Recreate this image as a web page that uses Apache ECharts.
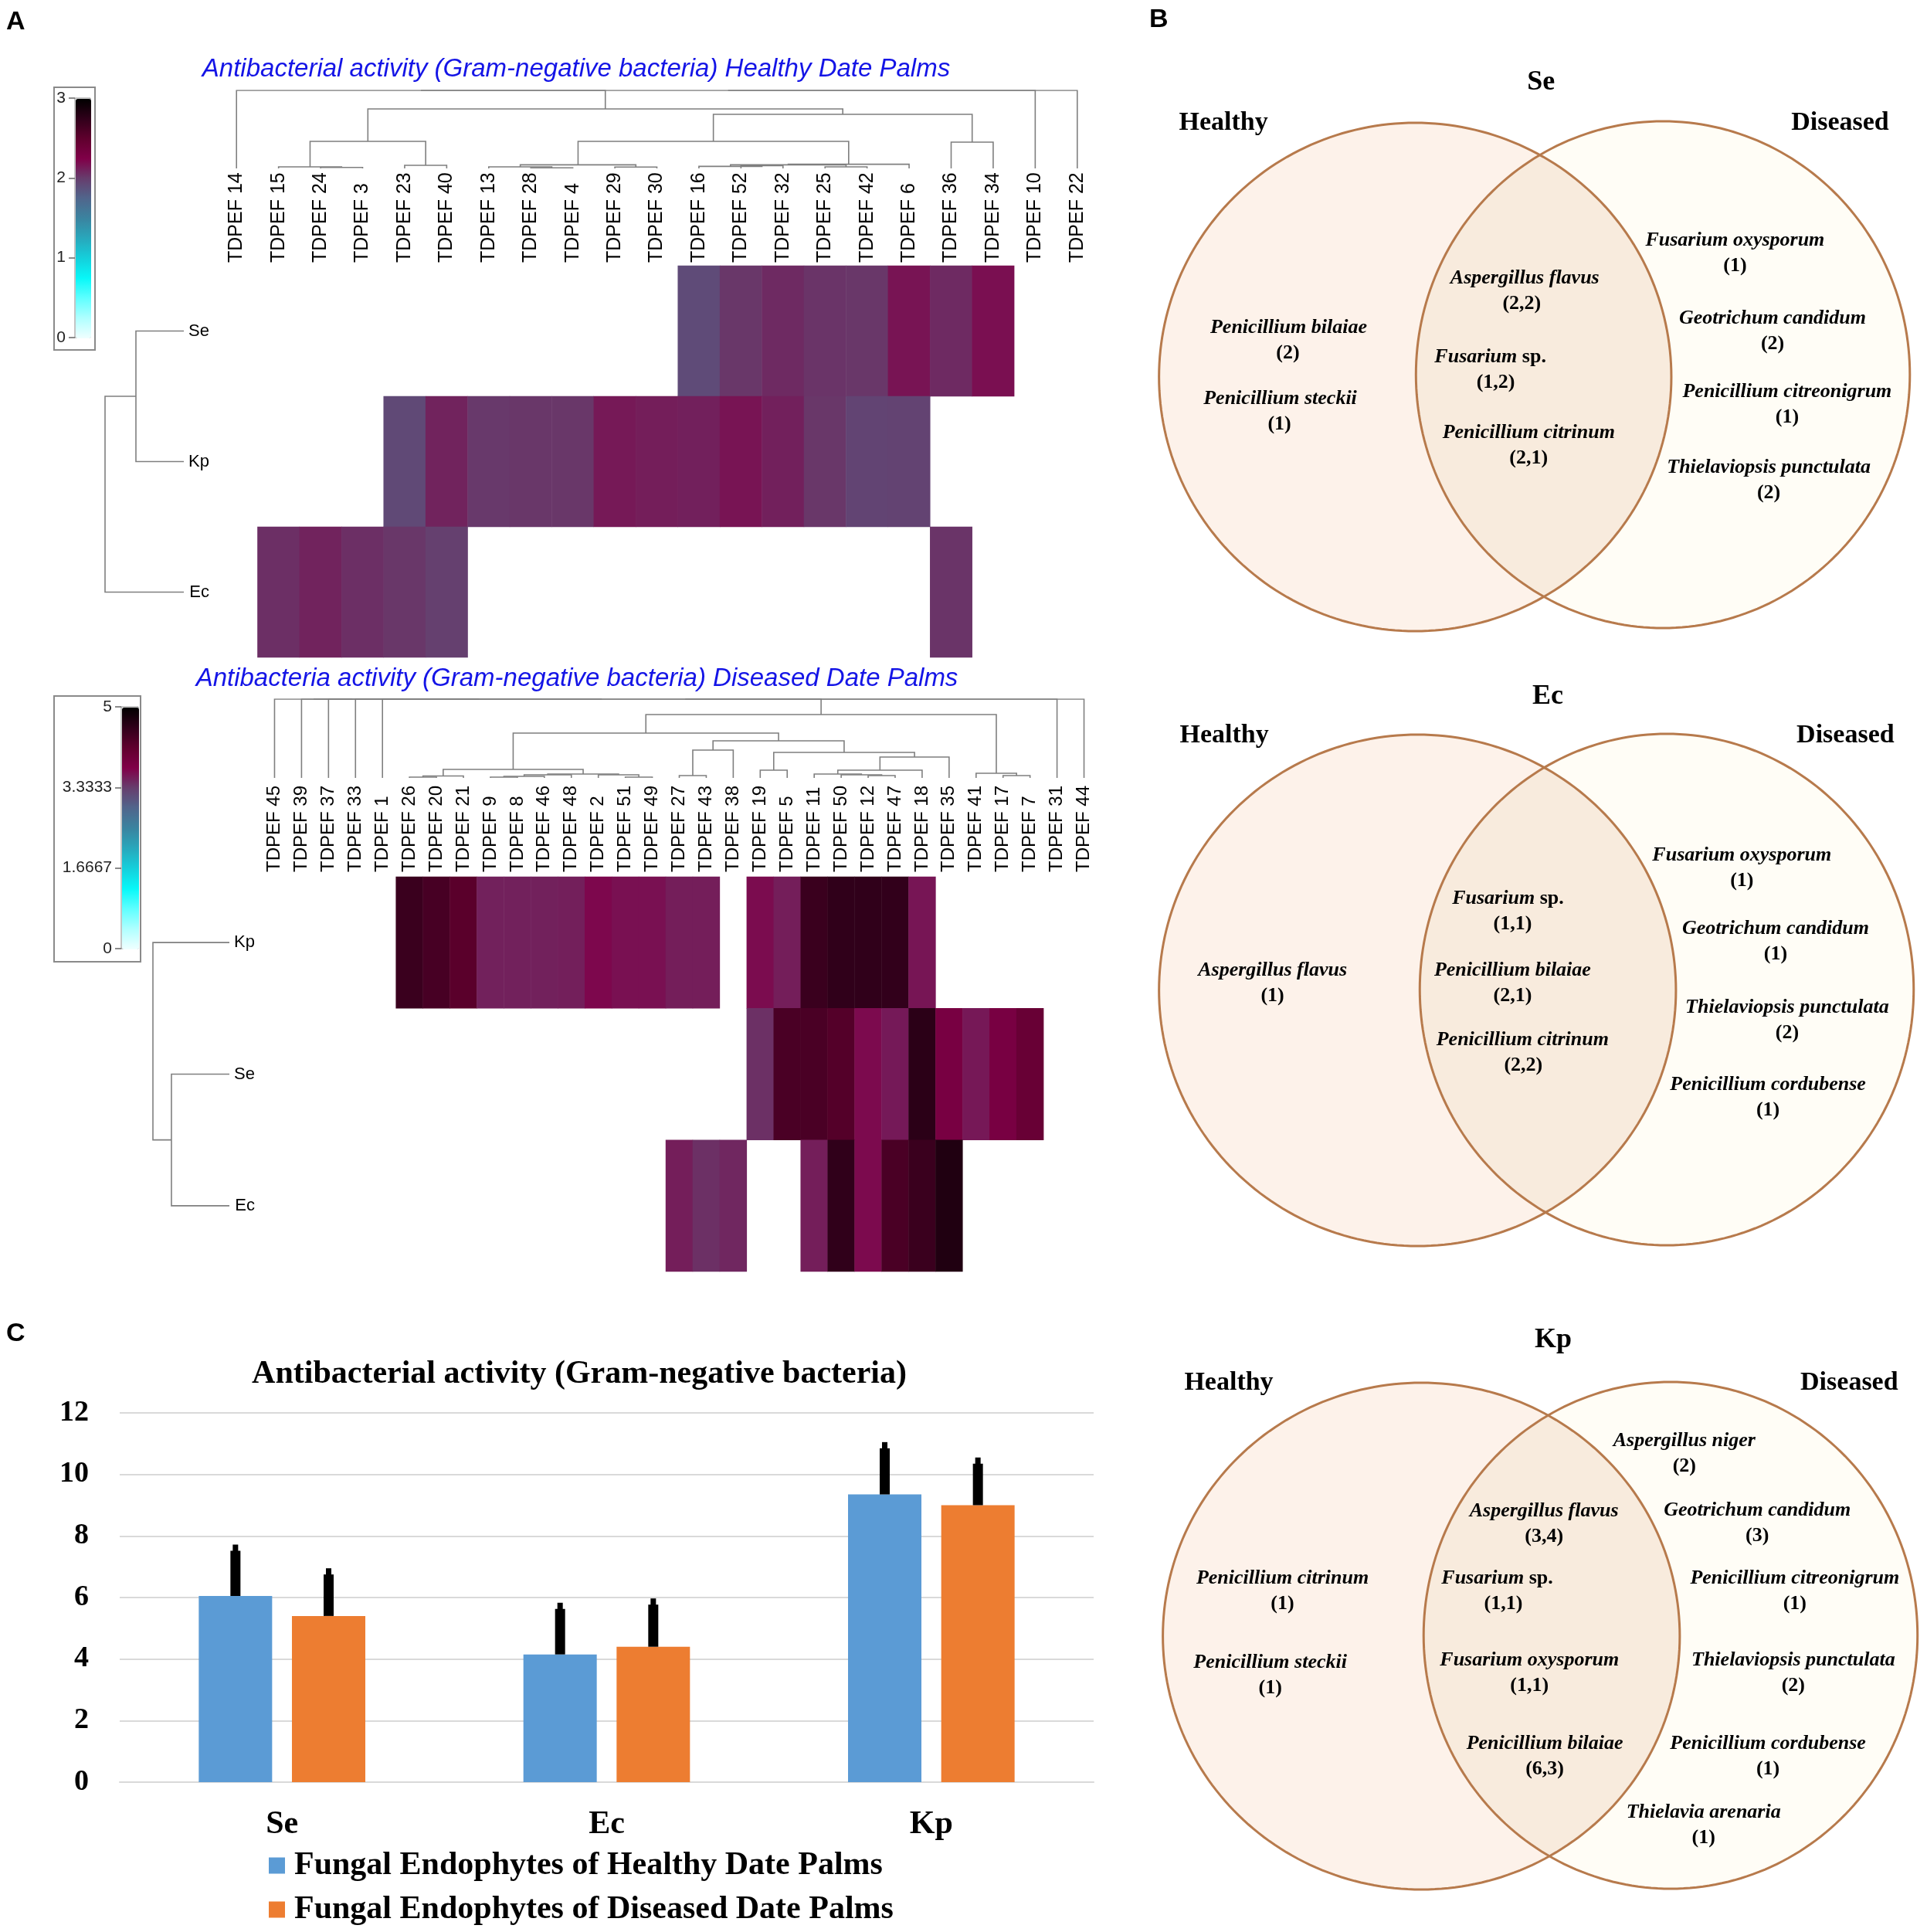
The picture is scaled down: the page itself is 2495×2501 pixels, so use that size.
<!DOCTYPE html>
<html><head><meta charset="utf-8">
<script src="https://cdn.jsdelivr.net/npm/echarts@6/dist/echarts.min.js"></script>
<style>html,body{margin:0;padding:0;background:#fff}#c{width:2495px;height:2501px}</style>
</head><body><div id="c"></div><script>
// ---------------- DATA ----------------
// Heatmap 1 (healthy)
const hm1Columns = ['TDPEF 14','TDPEF 15','TDPEF 24','TDPEF 3','TDPEF 23','TDPEF 40','TDPEF 13','TDPEF 28','TDPEF 4','TDPEF 29','TDPEF 30','TDPEF 16','TDPEF 52','TDPEF 32','TDPEF 25','TDPEF 42','TDPEF 6','TDPEF 36','TDPEF 34','TDPEF 10','TDPEF 22'];
const hm1Rows = ['Se','Kp','Ec'];
const hm1SeCols = ['TDPEF 16','TDPEF 52','TDPEF 32','TDPEF 25','TDPEF 42','TDPEF 6','TDPEF 36','TDPEF 34'];
const hm1SeVals = [1.92,2.03,2.08,2.04,2.03,2.17,2.08,2.19];
const hm1KpCols = ['TDPEF 23','TDPEF 40','TDPEF 13','TDPEF 28','TDPEF 4','TDPEF 29','TDPEF 30','TDPEF 16','TDPEF 52','TDPEF 32','TDPEF 25','TDPEF 42','TDPEF 6'];
const hm1KpVals = [1.93,2.11,2.02,2.03,2.03,2.15,2.13,2.12,2.17,2.12,2.03,1.96,1.97];
const hm1EcCols = ['TDPEF 15','TDPEF 24','TDPEF 3','TDPEF 23','TDPEF 40','TDPEF 36'];
const hm1EcVals = [2.06,2.11,2.06,2.03,1.99,2.04];
const hm1ScaleTicks = [0,1,2,3];
// column dendrogram 1: [nodeA, nodeB, height]
const hm1ColLinks = [[2,3,1.3],[1,21,2.0],[4,5,4.0],[22,23,34.7],[7,8,0.7],[6,25,2.0],[9,10,1.7],[26,27,4.6],[12,13,3.6],[11,29,2.6],[14,15,2.0],[30,31,4.6],[32,16,5.3],[28,33,34.7],[17,18,33.7],[34,35,69.3],[24,36,76.2],[0,37,100],[38,19,100],[39,20,100]];
const hm1RowLinks = [[0,1,60.8],[3,2,100]];

// Heatmap 2 (diseased)
const hm2Columns = ['TDPEF 45','TDPEF 39','TDPEF 37','TDPEF 33','TDPEF 1','TDPEF 26','TDPEF 20','TDPEF 21','TDPEF 9','TDPEF 8','TDPEF 46','TDPEF 48','TDPEF 2','TDPEF 51','TDPEF 49','TDPEF 27','TDPEF 43','TDPEF 38','TDPEF 19','TDPEF 5','TDPEF 11','TDPEF 50','TDPEF 12','TDPEF 47','TDPEF 18','TDPEF 35','TDPEF 41','TDPEF 17','TDPEF 7','TDPEF 31','TDPEF 44'];
const hm2Rows = ['Kp','Se','Ec'];
const hm2KpCols = ['TDPEF 26','TDPEF 20','TDPEF 21','TDPEF 9','TDPEF 8','TDPEF 46','TDPEF 48','TDPEF 2','TDPEF 51','TDPEF 49','TDPEF 27','TDPEF 43','TDPEF 19','TDPEF 5','TDPEF 11','TDPEF 50','TDPEF 12','TDPEF 47','TDPEF 18'];
const hm2KpVals = [4.5,4.38,4.22,3.53,3.53,3.53,3.54,3.7,3.64,3.64,3.55,3.55,3.67,3.55,4.5,4.58,4.58,4.57,3.61];
const hm2SeCols = ['TDPEF 19','TDPEF 5','TDPEF 11','TDPEF 50','TDPEF 12','TDPEF 47','TDPEF 18','TDPEF 35','TDPEF 41','TDPEF 17','TDPEF 7'];
const hm2SeVals = [3.43,4.36,4.36,4.27,3.68,3.58,4.63,3.85,3.59,3.85,4.06];
const hm2EcCols = ['TDPEF 27','TDPEF 43','TDPEF 38','TDPEF 11','TDPEF 50','TDPEF 12','TDPEF 47','TDPEF 18','TDPEF 35'];
const hm2EcVals = [3.55,3.43,3.49,3.55,4.58,3.68,4.36,4.5,4.72];
const hm2ScaleTicks = [0,5/3,10/3,5];
const hm2ColLinks = [[5,6,1.0],[31,7,2.5],[8,9,1.0],[33,10,2.0],[34,11,3.9],[13,14,1.0],[12,36,3.9],[35,37,4.9],[32,38,10.8],[15,16,2.9],[40,17,35.3],[18,19,9.8],[22,23,2.9],[21,43,3.9],[20,44,4.9],[45,24,9.8],[46,25,26.5],[42,47,32.4],[41,48,47.1],[39,49,56.9],[27,28,2.9],[26,51,5.9],[50,52,80.4],[4,53,100],[3,54,100],[2,55,100],[1,56,100],[0,57,100],[58,29,100],[59,30,100]];
const hm2RowLinks = [[1,2,75.8],[0,3,100]];

// Bar chart
const barCategories = ['Se','Ec','Kp'];
const healthyMeans = [6.05,4.15,9.35];
const healthyErr = [1.67,1.68,1.70];
const diseasedMeans = [5.4,4.4,9.0];
const diseasedErr = [1.55,1.57,1.55];
const barTicks = [0,2,4,6,8,10,12];
const seriesNames = ['Fungal Endophytes of Healthy Date Palms','Fungal Endophytes of Diseased Date Palms'];

// Venn diagrams: [species, count]
const vennSeHealthy = [['Penicillium bilaiae','(2)'],['Penicillium steckii','(1)']];
const vennSeBoth = [['Aspergillus flavus','(2,2)'],['Fusarium sp.','(1,2)'],['Penicillium citrinum','(2,1)']];
const vennSeDiseased = [['Fusarium oxysporum','(1)'],['Geotrichum candidum','(2)'],['Penicillium citreonigrum','(1)'],['Thielaviopsis punctulata','(2)']];
const vennEcHealthy = [['Aspergillus flavus','(1)']];
const vennEcBoth = [['Fusarium sp.','(1,1)'],['Penicillium bilaiae','(2,1)'],['Penicillium citrinum','(2,2)']];
const vennEcDiseased = [['Fusarium oxysporum','(1)'],['Geotrichum candidum','(1)'],['Thielaviopsis punctulata','(2)'],['Penicillium cordubense','(1)']];
const vennKpHealthy = [['Penicillium citrinum','(1)'],['Penicillium steckii','(1)']];
const vennKpBoth = [['Aspergillus flavus','(3,4)'],['Fusarium sp.','(1,1)'],['Fusarium oxysporum','(1,1)'],['Penicillium bilaiae','(6,3)']];
const vennKpDiseased = [['Aspergillus niger','(2)'],['Geotrichum candidum','(3)'],['Penicillium citreonigrum','(1)'],['Thielaviopsis punctulata','(2)'],['Penicillium cordubense','(1)'],['Thielavia arenaria','(1)']];

// ---------------- LAYOUT (positions / styles) ----------------
const vennLayout = [
  {title:'Se', t:[1999,107], h:[1585,159], d:[2389,159],
   eH:[1835,488,334,329], eD:[2158,485,322,328],
   pH:[[1670,424,1669],[1659,516,1658]],
   pB:[[1978,360,1974],[1933,462,1940],[1983,560,1983]],
   pD:[[2252,311,2252],[2301,412,2301],[2320,507,2320],[2296,605,2296]]},
  {title:'Ec', t:[2008,902], h:[1586,952], d:[2396,952],
   eH:[1838,1282,337,331], eD:[2163,1281,322,331],
   pH:[[1649,1256,1649]],
   pB:[[1956,1163,1962],[1962,1256,1962],[1975,1346,1976]],
   pD:[[2261,1107,2261],[2305,1202,2305],[2320,1304,2320],[2295,1404,2295]]},
  {title:'Kp', t:[2015,1735], h:[1592,1790], d:[2401,1790],
   eH:[1843,2118,337,328], eD:[2168,2117,322,328],
   pH:[[1662,2043,1662],[1646,2152,1646]],
   pB:[[2003,1956,2003],[1942,2043,1950],[1984,2149,1984],[2004,2257,2004]],
   pD:[[2186,1865,2186],[2281,1955,2281],[2330,2043,2330],[2328,2149,2328],[2295,2257,2295],[2211,2346,2211]]}
];
const vennData = [[vennSeHealthy,vennSeBoth,vennSeDiseased],[vennEcHealthy,vennEcBoth,vennEcDiseased],[vennKpHealthy,vennKpBoth,vennKpDiseased]];
const VX0 = 1450, VXS = 0.993;           // horizontal calibration of panel B
const vx = x => VX0 + (x - VX0) * VXS;

const cmap = ['#f0ffff','#b0ffff','#60ffff','#08f8f8','#14d0dc','#28a8bc','#3a84a0','#50668c','#663e6e','#800048','#60002e','#30001a','#000000'];
const SANS = '"Liberation Sans", Arial, sans-serif';
const SERIF = '"Liberation Serif", "Times New Roman", serif';
const DCOL = '#7f7f7f';

// ---------------- HELPERS ----------------
function heatData(cols, rows, rowCols, rowVals) {
  const out = [];
  rows.forEach((r, ri) => {
    rowCols[ri].forEach((c, k) => out.push([cols.indexOf(c), ri, rowVals[ri][k]]));
  });
  return out;
}
function dendroSegments(n, links, swap) {
  const pos = [], ht = [];
  for (let i = 0; i < n; i++) { pos[i] = i; ht[i] = 0; }
  const segs = [];
  links.forEach((l, k) => {
    const a = l[0], b = l[1], h = l[2];
    let pts = [[pos[a], ht[a]], [pos[a], h], [pos[b], h], [pos[b], ht[b]]];
    if (swap) pts = pts.map(p => [p[1], p[0]]);
    segs.push({coords: pts});
    pos[n + k] = (pos[a] + pos[b]) / 2; ht[n + k] = h;
  });
  return segs;
}
function ellipsePts(e, a0, a1, n) {
  const pts = [];
  for (let i = 0; i <= n; i++) {
    const t = (a0 + (a1 - a0) * i / n) * Math.PI / 180;
    pts.push([e[0] + e[2] * Math.cos(t), e[1] - e[3] * Math.sin(t)]);
  }
  return pts;
}
function inside(p, e) { return Math.pow((p[0]-e[0])/e[2],2) + Math.pow((p[1]-e[1])/e[3],2) <= 1.0001; }

const hm1Data = heatData(hm1Columns, hm1Rows, [hm1SeCols, hm1KpCols, hm1EcCols], [hm1SeVals, hm1KpVals, hm1EcVals]);
const hm2Data = heatData(hm2Columns, hm2Rows, [hm2KpCols, hm2SeCols, hm2EcCols], [hm2KpVals, hm2SeVals, hm2EcVals]);

// ---------------- GRAPHICS ----------------
const graphics = [];
function txt(x, y, text, font, fill, align) {
  graphics.push({type:'text', silent:true, z:10, style:{x:x, y:y, text:text, font:font, fill:fill||'#000', textAlign:align||'center', textVerticalAlign:'middle'}});
}
txt(8, 29, 'A', 'bold 34px ' + SANS, '#000', 'left');
txt(1488, 26, 'B', 'bold 34px ' + SANS, '#000', 'left');
txt(8, 1727, 'C', 'bold 34px ' + SANS, '#000', 'left');
txt(746, 90, 'Antibacterial activity (Gram-negative bacteria) Healthy Date Palms', 'italic 33px ' + SANS, '#1414e6');
txt(747, 879, 'Antibacteria activity (Gram-negative bacteria) Diseased Date Palms', 'italic 33px ' + SANS, '#1414e6');
txt(750, 1779, 'Antibacterial activity (Gram-negative bacteria)', 'bold 42px ' + SERIF, '#000');

const VSTROKE = '#b77a4c';
vennLayout.forEach((L, vi) => {
  const eH = [vx(L.eH[0]), L.eH[1], L.eH[2] * VXS, L.eH[3]];
  const eD = [vx(L.eD[0]), L.eD[1], L.eD[2] * VXS, L.eD[3]];
  graphics.push({type:'polygon', silent:true, z:1, shape:{points: ellipsePts(eH,0,360,240)}, style:{fill:'#fdf2ea', stroke:null}});
  graphics.push({type:'polygon', silent:true, z:2, shape:{points: ellipsePts(eD,0,360,240)}, style:{fill:'#fffdf6', stroke:null}});
  const lens = ellipsePts(eD,90,270,400).filter(p => inside(p, eH)).concat(ellipsePts(eH,-90,90,400).filter(p => inside(p, eD)));
  graphics.push({type:'polygon', silent:true, z:3, shape:{points: lens}, style:{fill:'#f8ebdd', stroke:null}});
  graphics.push({type:'polygon', silent:true, z:4, shape:{points: ellipsePts(eH,0,360,240)}, style:{fill:null, stroke:VSTROKE, lineWidth:3}});
  graphics.push({type:'polygon', silent:true, z:4, shape:{points: ellipsePts(eD,0,360,240)}, style:{fill:null, stroke:VSTROKE, lineWidth:3}});
  txt(vx(L.t[0]), L.t[1], L.title, 'bold 36px ' + SERIF);
  txt(vx(L.h[0]), L.h[1], 'Healthy', 'bold 34px ' + SERIF);
  txt(vx(L.d[0]), L.d[1], 'Diseased', 'bold 34px ' + SERIF);
  const groups = vennData[vi], poss = [L.pH, L.pB, L.pD];
  groups.forEach((items, gi) => {
    items.forEach((it, k) => {
      const p = poss[gi][k];
      const name = it[0];
      if (/ sp\.$/.test(name)) {
        graphics.push({type:'text', silent:true, z:10, style:{x:vx(p[0]), y:p[1], text:'{i|' + name.replace(/ sp\.$/,'') + '}{n|\u00a0sp.}', textAlign:'center', textVerticalAlign:'middle',
          rich:{i:{fontFamily:SERIF, fontStyle:'italic', fontWeight:'bold', fontSize:26, fill:'#000', color:'#000'}, n:{fontFamily:SERIF, fontWeight:'bold', fontSize:26, fill:'#000', color:'#000'}}}});
      } else {
        txt(vx(p[0]), p[1], name, 'italic bold 26px ' + SERIF);
      }
      txt(vx(p[2]), p[1] + 33, it[1], 'bold 26px ' + SERIF);
    });
  });
});

// ---------------- OPTION ----------------
const hidden = {show:false};
function valAxis(grid, min, max, extra) { return Object.assign({type:'value', gridIndex:grid, min:min, max:max, show:false}, extra||{}); }
const heatXAxis = (grid, cols, margin, fs) => ({type:'category', gridIndex:grid, data:cols, position:'top',
  axisLine:hidden, axisTick:hidden, splitLine:hidden,
  axisLabel:{rotate:-90, interval:0, fontSize:fs, fontFamily:SANS, color:'#000', margin:margin}});
const heatYAxis = (grid, rows) => ({type:'category', gridIndex:grid, data:rows, inverse:true,
  axisLine:hidden, axisTick:hidden, splitLine:hidden,
  axisLabel:{fontSize:22, fontFamily:SANS, color:'#000', margin:8}});
const cbYAxis = (grid, max, ticks) => ({type:'value', gridIndex:grid, min:0, max:max, position:'left',
  axisLine:hidden, splitLine:hidden,
  axisTick:{show:true, length:8, lineStyle:{color:'#666', width:1.5}, customValues:ticks},
  axisLabel:{margin:12, fontSize:21, fontFamily:SANS, color:'#222', customValues:ticks,
    formatter: v => String(Math.round(v*10000)/10000)}});

const errSeries = (name, means, errs, sign) => ({
  type:'custom', name:name, xAxisIndex:8, yAxisIndex:8, silent:true, z:5,
  data: means.map((m, i) => [i, m, errs[i]]),
  renderItem: function (params, api) {
    const c = api.value(0), m = api.value(1), e = api.value(2);
    const p0 = api.coord([c, m]), p1 = api.coord([c, m + e]);
    const x = p0[0] + sign * (95 + 0.27 * 95) / 2;
    return {type:'group', children:[
      {type:'rect', shape:{x:x - 6.5, y:p1[1] + 8, width:13, height:p0[1] - p1[1] - 8}, style:{fill:'#000'}},
      {type:'rect', shape:{x:x - 3.5, y:p1[1], width:7, height:9}, style:{fill:'#000'}}
    ]};
  }
});
const legendBase = {orient:'horizontal', left:348, itemWidth:21, itemHeight:21, icon:'rect', padding:0,
  selectedMode:false, textStyle:{fontSize:42, fontWeight:'bold', fontFamily:SERIF, color:'#000', padding:[0,0,0,7]}};

const option = {
  animation:false,
  backgroundColor:'#fff',
  grid:[
    {left:279, top:344, width:1143, height:507},   // 0 heatmap1
    {left:279, top:117, width:1143, height:101},   // 1 col dendro1
    {left:136, top:344, width:102, height:507},    // 2 row dendro1
    {left:97, top:127, width:20, height:310, show:true, borderColor:'#8a8a8a', borderWidth:1, backgroundColor:'transparent'}, // 3 colorbar1
    {left:338, top:1135, width:1083, height:511},  // 4 heatmap2
    {left:338, top:905, width:1083, height:102},   // 5 col dendro2
    {left:198, top:1135, width:99, height:511},    // 6 row dendro2
    {left:157, top:915, width:22, height:313, show:true, borderColor:'#8a8a8a', borderWidth:1, backgroundColor:'transparent'}, // 7 colorbar2
    {left:155, top:1829, width:1261, height:478}   // 8 bars
  ],
  xAxis:[
    heatXAxis(0, hm1Columns, 4, 25),
    valAxis(1, -0.5, hm1Columns.length - 0.5),
    valAxis(2, 0, 100, {inverse:true}),
    valAxis(3, 0, 1),
    heatXAxis(4, hm2Columns, 6, 24),
    valAxis(5, -0.5, hm2Columns.length - 0.5),
    valAxis(6, 0, 100, {inverse:true}),
    valAxis(7, 0, 1),
    {type:'category', gridIndex:8, data:barCategories,
      axisLine:{show:true, lineStyle:{color:'#d9d9d9', width:2}}, axisTick:hidden,
      axisLabel:{fontSize:42, fontWeight:'bold', fontFamily:SERIF, color:'#000', margin:34}}
  ],
  yAxis:[
    heatYAxis(0, hm1Rows),
    valAxis(1, 0, 100),
    valAxis(2, -0.5, hm1Rows.length - 0.5, {inverse:true}),
    cbYAxis(3, 3, hm1ScaleTicks),
    heatYAxis(4, hm2Rows),
    valAxis(5, 0, 100),
    valAxis(6, -0.5, hm2Rows.length - 0.5, {inverse:true}),
    cbYAxis(7, 5, hm2ScaleTicks),
    {type:'value', gridIndex:8, min:0, max:12, interval:2,
      axisLine:hidden, axisTick:hidden,
      splitLine:{show:true, lineStyle:{color:'#d9d9d9', width:2}},
      axisLabel:{fontSize:38, fontWeight:'bold', fontFamily:SERIF, color:'#000', margin:40,
        customValues: barTicks}}
  ],
  visualMap:[
    {type:'continuous', seriesIndex:0, min:0, max:3, orient:'vertical', left:69, top:112,
      itemWidth:20, itemHeight:310, padding:[15,5,15,28], calculable:false, hoverLink:false,
      borderColor:'#8a8a8a', borderWidth:2, inRange:{color:cmap}},
    {type:'continuous', seriesIndex:3, min:0, max:5, orient:'vertical', left:69, top:900,
      itemWidth:22, itemHeight:313, padding:[15,2,16,88], calculable:false, hoverLink:false,
      borderColor:'#8a8a8a', borderWidth:2, inRange:{color:cmap}}
  ],
  legend:[
    Object.assign({}, legendBase, {top:2394, data:[seriesNames[0]]}),
    Object.assign({}, legendBase, {top:2451, data:[seriesNames[1]]})
  ],
  graphic:{elements:graphics},
  series:[
    {type:'heatmap', xAxisIndex:0, yAxisIndex:0, data:hm1Data, silent:true, itemStyle:{borderWidth:0}},
    {type:'lines', coordinateSystem:'cartesian2d', xAxisIndex:1, yAxisIndex:1, polyline:true, silent:true,
      data:dendroSegments(hm1Columns.length, hm1ColLinks, false), lineStyle:{color:DCOL, width:1.6, opacity:1}},
    {type:'lines', coordinateSystem:'cartesian2d', xAxisIndex:2, yAxisIndex:2, polyline:true, silent:true,
      data:dendroSegments(hm1Rows.length, hm1RowLinks, true), lineStyle:{color:DCOL, width:1.6, opacity:1}},
    {type:'heatmap', xAxisIndex:4, yAxisIndex:4, data:hm2Data, silent:true, itemStyle:{borderWidth:0}},
    {type:'lines', coordinateSystem:'cartesian2d', xAxisIndex:5, yAxisIndex:5, polyline:true, silent:true,
      data:dendroSegments(hm2Columns.length, hm2ColLinks, false), lineStyle:{color:DCOL, width:1.6, opacity:1}},
    {type:'lines', coordinateSystem:'cartesian2d', xAxisIndex:6, yAxisIndex:6, polyline:true, silent:true,
      data:dendroSegments(hm2Rows.length, hm2RowLinks, true), lineStyle:{color:DCOL, width:1.6, opacity:1}},
    {type:'bar', name:seriesNames[0], xAxisIndex:8, yAxisIndex:8, data:healthyMeans,
      barWidth:95, barGap:'27%', itemStyle:{color:'#5b9bd5'}, silent:true},
    {type:'bar', name:seriesNames[1], xAxisIndex:8, yAxisIndex:8, data:diseasedMeans,
      barWidth:95, barGap:'27%', itemStyle:{color:'#ed7d31'}, silent:true},
    errSeries('errH', healthyMeans, healthyErr, -1),
    errSeries('errD', diseasedMeans, diseasedErr, 1)
  ]
};
const chart = echarts.init(document.getElementById('c'), null, {renderer:'canvas'});
chart.setOption(option);
</script></body></html>
